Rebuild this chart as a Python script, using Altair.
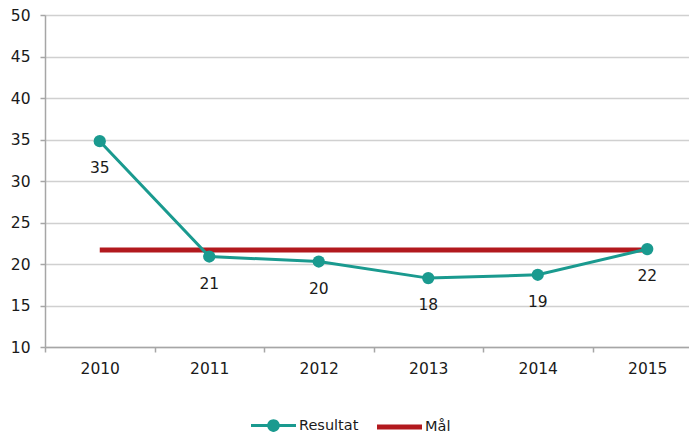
import altair as alt
import pandas as pd

years = ["2010", "2011", "2012", "2013", "2014", "2015"]
resultat = [34.8, 20.9, 20.3, 18.3, 18.7, 21.8]
maal = [21.7, 21.7, 21.7, 21.7, 21.7, 21.7]
series = ["Resultat", "Mål"]
colors = ["#1A9A8F", "#B2191E"]
y_ticks = [10, 15, 20, 25, 30, 35, 40, 45, 50]

FONT = "DejaVu Sans"
TEAL, RED = colors

df_res = pd.DataFrame({"År": years, "Värde": resultat})
df_maal = pd.DataFrame({"År": years, "Värde": maal})
df_leg = pd.DataFrame({"År": [years[0], years[0]], "Värde": [None, None], "Serie": series})

x = alt.X("År:N", sort=years,
          scale=alt.Scale(paddingInner=0, paddingOuter=0),
          axis=alt.Axis(title=None, labelAngle=0, tickBand="extent", tickSize=5,
                        labelPadding=9, labelFontSize=15.5, labelFont=FONT,
                        labelColor="#1a1a1a", domainColor="#a6a6a6", tickColor="#a6a6a6",
                        domainWidth=1.5, tickWidth=1.5, grid=False))
y = alt.Y("Värde:Q", scale=alt.Scale(domain=[10, 50], nice=False, zero=False),
          axis=alt.Axis(title=None, values=y_ticks, tickSize=5, labelPadding=10,
                        labelFontSize=15.5, labelFont=FONT, labelColor="#1a1a1a",
                        domainColor="#a6a6a6", tickColor="#a6a6a6", domainWidth=1.5,
                        tickWidth=1.5, gridColor="#d0d0d0", gridWidth=1.5))

shape_res = ("M-1,-0.067H1V0.067H-1Z"
             "M-0.28,0A0.28,0.28,0,1,1,0.28,0A0.28,0.28,0,1,1,-0.28,0Z")
shape_maal = "M-1,-0.11H1V0.11H-1Z"

leg = alt.Legend(title=None, orient="none", direction="horizontal",
                 legendX=205, legendY=387, symbolSize=2025, symbolOpacity=1,
                 labelFontSize=14.5, labelFont=FONT, labelColor="#1a1a1a",
                 labelOffset=2, columnPadding=15)

legend_layer = alt.Chart(df_leg).mark_point(filled=True, opacity=1).encode(
    x=x, y=y,
    color=alt.Color("Serie:N", scale=alt.Scale(domain=series, range=colors), legend=leg),
    shape=alt.Shape("Serie:N", scale=alt.Scale(domain=series, range=[shape_res, shape_maal]),
                    legend=leg),
)

line_maal = alt.Chart(df_maal).mark_line(color=RED, strokeWidth=5).encode(x=x, y=y)
line_res = alt.Chart(df_res).mark_line(color=TEAL, strokeWidth=3).encode(x=x, y=y)
points = alt.Chart(df_res).mark_point(filled=True, size=150, opacity=1, color=TEAL).encode(
    x=x, y=y)
labels = alt.Chart(df_res).mark_text(dy=27, fontSize=15.5, font=FONT, color="#1a1a1a").encode(
    x=x, y=y, text=alt.Text("Värde:Q", format=".0f"))

chart = alt.layer(line_maal, line_res, points, labels, legend_layer).properties(
    width=657, height=332,
    padding={"top": 0, "left": 2, "right": -14, "bottom": 0},
).configure_view(stroke=None)

chart.save("out.html", embed_options={"renderer": "svg", "actions": False})
